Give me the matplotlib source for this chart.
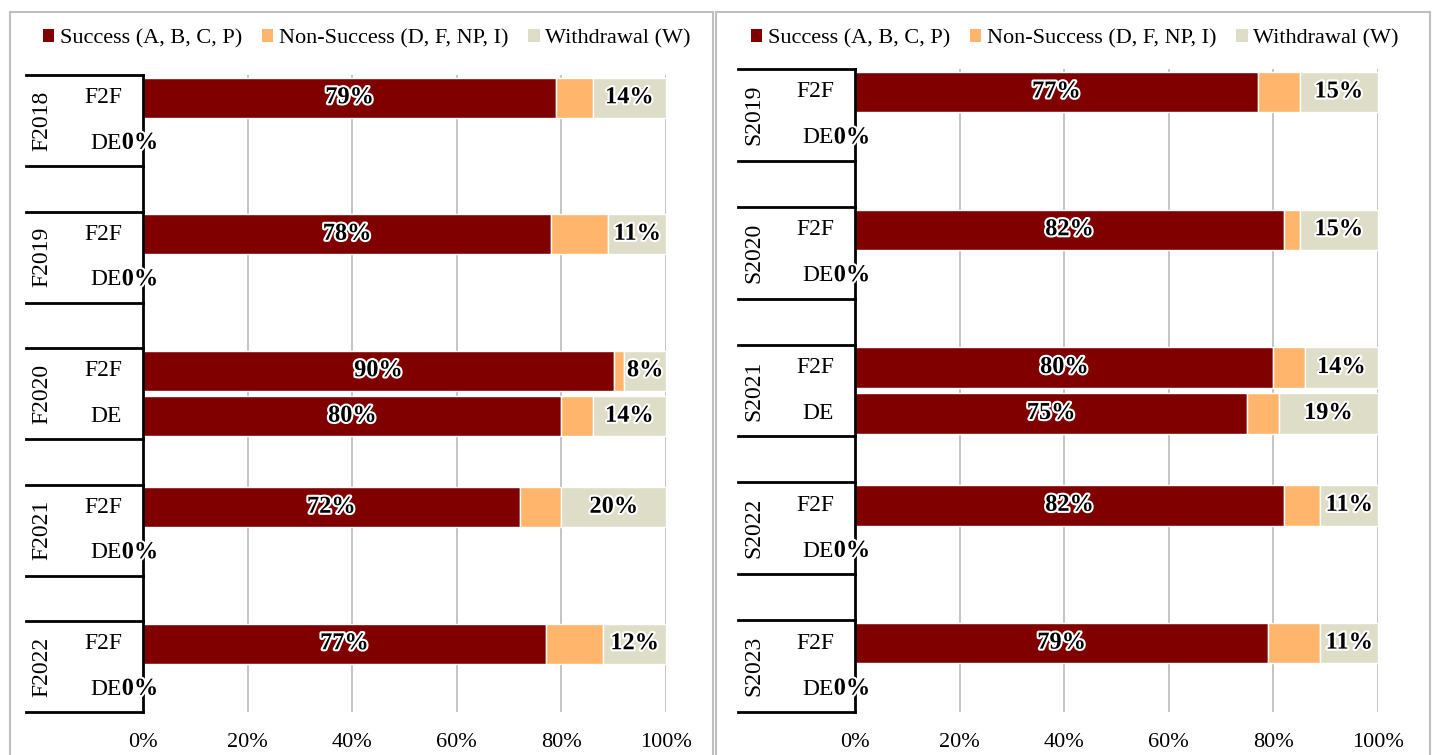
import matplotlib
matplotlib.use("Agg")
import matplotlib.pyplot as plt
import matplotlib.patheffects as pe
from matplotlib.patches import Patch, Rectangle

plt.rcParams['font.family'] = ['Liberation Serif', 'DejaVu Serif']

# data: one entry per term, F2F row then DE row
left_terms = ['F2018', 'F2019', 'F2020', 'F2021', 'F2022']
left_success = [(79, 0), (78, 0), (90, 80), (72, 0), (77, 0)]
left_nonsuccess = [(7, 0), (11, 0), (2, 6), (8, 0), (11, 0)]
left_withdraw = [(14, 0), (11, 0), (8, 14), (20, 0), (12, 0)]

right_terms = ['S2019', 'S2020', 'S2021', 'S2022', 'S2023']
right_success = [(77, 0), (82, 0), (80, 75), (82, 0), (79, 0)]
right_nonsuccess = [(8, 0), (3, 0), (6, 6), (7, 0), (10, 0)]
right_withdraw = [(15, 0), (15, 0), (14, 19), (11, 0), (11, 0)]

modes = ['F2F', 'DE']
series = ['Success (A, B, C, P)', 'Non-Success (D, F, NP, I)', 'Withdrawal (W)']
colors = ['#800000', '#FFB66C', '#DEDEC8']
xticks = [0, 20, 40, 60, 80, 100]

W, H = 1435, 755
fig = plt.figure(figsize=(W / 100, H / 100), dpi=100)

# panel frames
for x0, x1 in [(10, 713), (716, 1430)]:
    fig.add_artist(Rectangle((x0 / W, -0.01), (x1 - x0) / W, 1 - 12 / H + 0.01,
                             transform=fig.transFigure, fill=False,
                             edgecolor='#BFBFBF', linewidth=1.5))

outline = [pe.withStroke(linewidth=3, foreground='white')]


def draw_panel(ax, terms, succ, nons, wd):
    ax.set_xlim(0, 100)
    ax.set_ylim(13.5, -0.5)
    for x in xticks[1:]:
        ax.axvline(x, color='#BFBFBF', linewidth=1.3, zorder=0)
    for g, term in enumerate(terms):
        for m, mode in enumerate(modes):
            y = 3 * g + m
            s, n, w = succ[g][m], nons[g][m], wd[g][m]
            ax.barh(y, s, height=0.88, color=colors[0], edgecolor='white', linewidth=1, zorder=2)
            ax.barh(y, n, left=s, height=0.88, color=colors[1], edgecolor='white', linewidth=1, zorder=2)
            if w > 0:
                ax.barh(y, w, left=s + n, height=0.88, color=colors[2], edgecolor='white', linewidth=1, zorder=2)
                ax.text(s + n + w / 2, y, f'{w}%', ha='center', va='center', fontsize=17.5,
                        fontweight='bold', color='black', path_effects=outline, zorder=4)
            ax.text(s / 2 - (0 if s else 0.6), y, f'{s}%', ha='center', va='center', fontsize=17.5,
                    fontweight='bold', color='black', path_effects=outline, zorder=6, clip_on=False)
            ax.text(-4.0, y, mode, ha='right', va='center', fontsize=17, clip_on=False)
        ax.text(-19.3, 3 * g + 0.5, term, ha='center', va='center', rotation=90,
                fontsize=17, clip_on=False)
    # category box lines: top and bottom of each term block
    bounds = []
    for g in range(len(terms)):
        bounds += [3 * g - 0.5, 3 * g + 1.5]
    for yb in bounds:
        ax.plot([-22.3, 0], [yb, yb], color='black', linewidth=2, clip_on=False, zorder=5)
    for sp in ['top', 'right', 'bottom']:
        ax.spines[sp].set_visible(False)
    ax.spines['left'].set_linewidth(2)
    ax.spines['left'].set_zorder(5)
    ax.set_yticks([])
    ax.set_xticks(xticks)
    ax.set_xticklabels([f'{x}%' for x in xticks], fontsize=16)
    ax.tick_params(axis='x', length=0, pad=15)


ax1 = fig.add_axes([143 / W, 1 - 712 / H, 523 / W, (712 - 75) / H])
draw_panel(ax1, left_terms, left_success, left_nonsuccess, left_withdraw)
ax2 = fig.add_axes([855 / W, 1 - 712 / H, 523 / W, (712 - 69) / H])
draw_panel(ax2, right_terms, right_success, right_nonsuccess, right_withdraw)

handles = [Patch(facecolor=c, edgecolor='none') for c in colors]
for cx in [367, 1075]:
    fig.legend(handles, series, loc='center', bbox_to_anchor=(cx / W, 1 - 39 / H),
               ncol=3, frameon=False, fontsize=16, handlelength=0.5, handleheight=0.5,
               handletextpad=0.25, columnspacing=0.9)

fig.savefig('out.png', dpi=100)
